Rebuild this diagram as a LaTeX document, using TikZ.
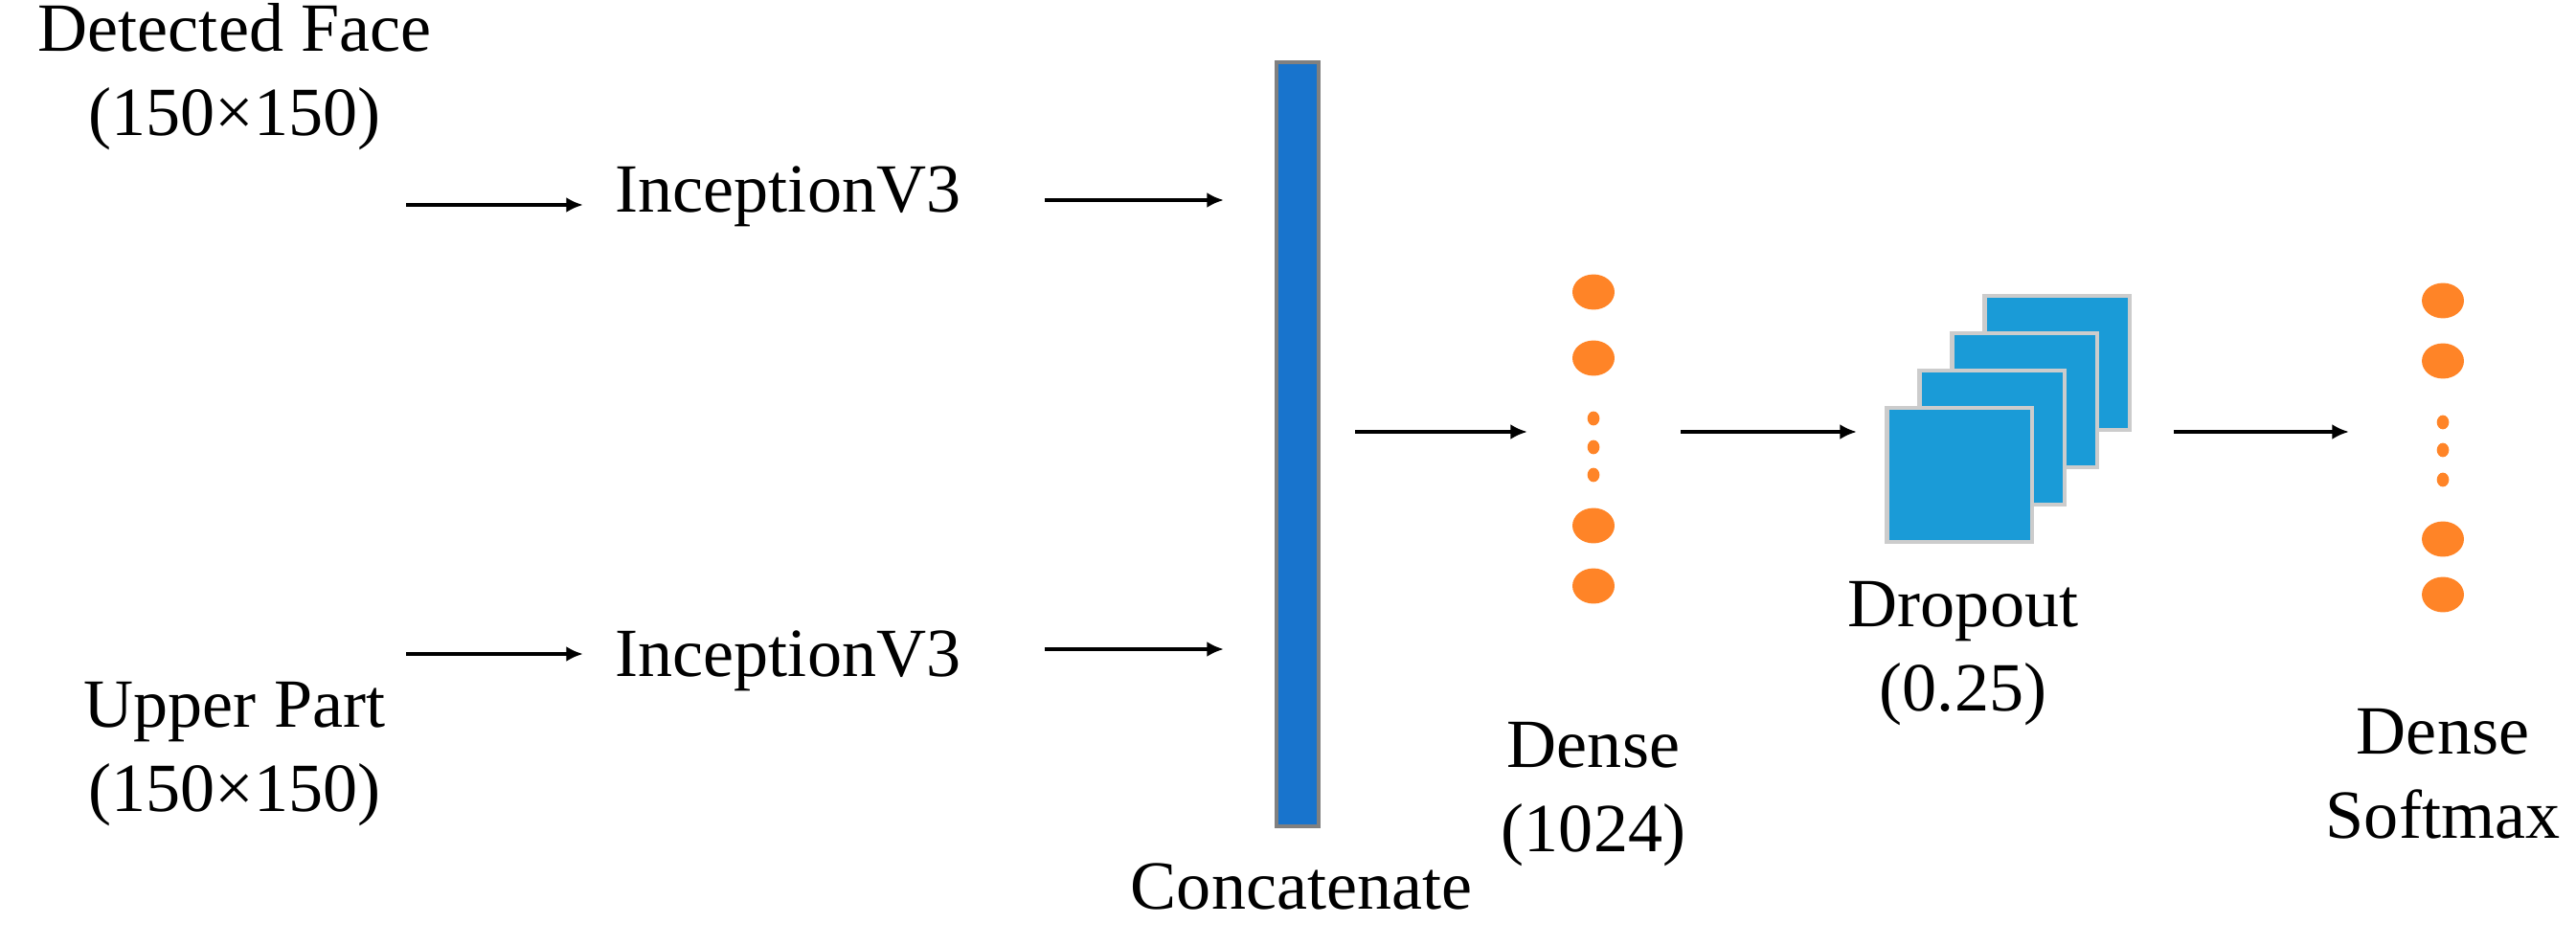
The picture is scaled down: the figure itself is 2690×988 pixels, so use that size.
\documentclass[tikz,border=0pt]{standalone}
\usepackage{fontspec}
\setmainfont{Liberation Serif}
\usetikzlibrary{shapes.geometric,arrows.meta}
\begin{document}
\begin{tikzpicture}[x=0.01cm,y=-0.01cm,
  lbl/.style={font=\fontsize{20.5}{25}\selectfont,align=center,inner sep=0},
  arr/.style={-{Latex[length=5pt,width=4.5pt]},line width=1.2pt},
  big/.style={fill=dotc,ellipse,minimum width=12.5pt,minimum height=10.5pt,inner sep=0},
  sml/.style={fill=dotc,ellipse,minimum width=3.6pt,minimum height=4.2pt,inner sep=0},
  sq/.style={fill=sqc,draw=gray!40,line width=1.2pt,minimum width=43pt,minimum height=40pt,inner sep=0}]
\definecolor{dotc}{HTML}{FF8427}
\definecolor{sqc}{HTML}{1A9BD7}
\definecolor{barc}{HTML}{1874CD}
\useasboundingbox (0,0) rectangle (2690,988);
\node[lbl] (in1) at (245,80) {Detected Face\\(150×150)};
\node[lbl] (in2) at (245,788) {Upper Part\\(150×150)};
\coordinate (a1s) at (424,214); \coordinate (a1e) at (609,214);
\coordinate (a2s) at (424,683); \coordinate (a2e) at (609,683);
\draw[arr] (a1s) -- (a1e); \draw[arr] (a2s) -- (a2e);
\node[lbl] (inc1) at (823,205) {InceptionV3};
\node[lbl] (inc2) at (823,690) {InceptionV3};
\node[draw=gray,fill=barc,line width=1.2pt,minimum width=12.5pt,minimum height=227pt,inner sep=0] (bar) at (1355,464) {};
\node[lbl] (cat) at (1359,926) {Concatenate};
\coordinate (b1s) at (1091,209); \coordinate (b2s) at (1091,678);
\draw[arr] (b1s) -- (1278,209); \draw[arr] (b2s) -- (1278,678);
\draw[arr] (1415,451) -- (1595,451);
% dense
\foreach \y/\n in {305/d1,374/d2,549/d3,612/d4}{\node[big] (\n) at (1664,\y) {};}
\foreach \y in {437,467,496}{\node[sml] at (1664,\y) {};}
\node[lbl] (dl) at (1664,830) {Dense\\(1024)};
\draw[arr] (1755,451) -- (1939,451);
% dropout squares
\node[sq] (s4) at (2148,379) {};
\node[sq] (s3) at (2114,418) {};
\node[sq] (s2) at (2080,457) {};
\node[sq] (s1) at (2046,496) {};
\node[lbl] (dol) at (2050,683) {Dropout\\(0.25)};
\draw[arr] (2270,451) -- (2453,451);
\foreach \y/\n in {314/e1,377/e2,563/e3,621/e4}{\node[big] (\n) at (2551,\y) {};}
\foreach \y in {441,470,501}{\node[sml] at (2551,\y) {};}
\node[lbl] (sl) at (2551,808) {Dense\\Softmax};
\end{tikzpicture}
\end{document}
